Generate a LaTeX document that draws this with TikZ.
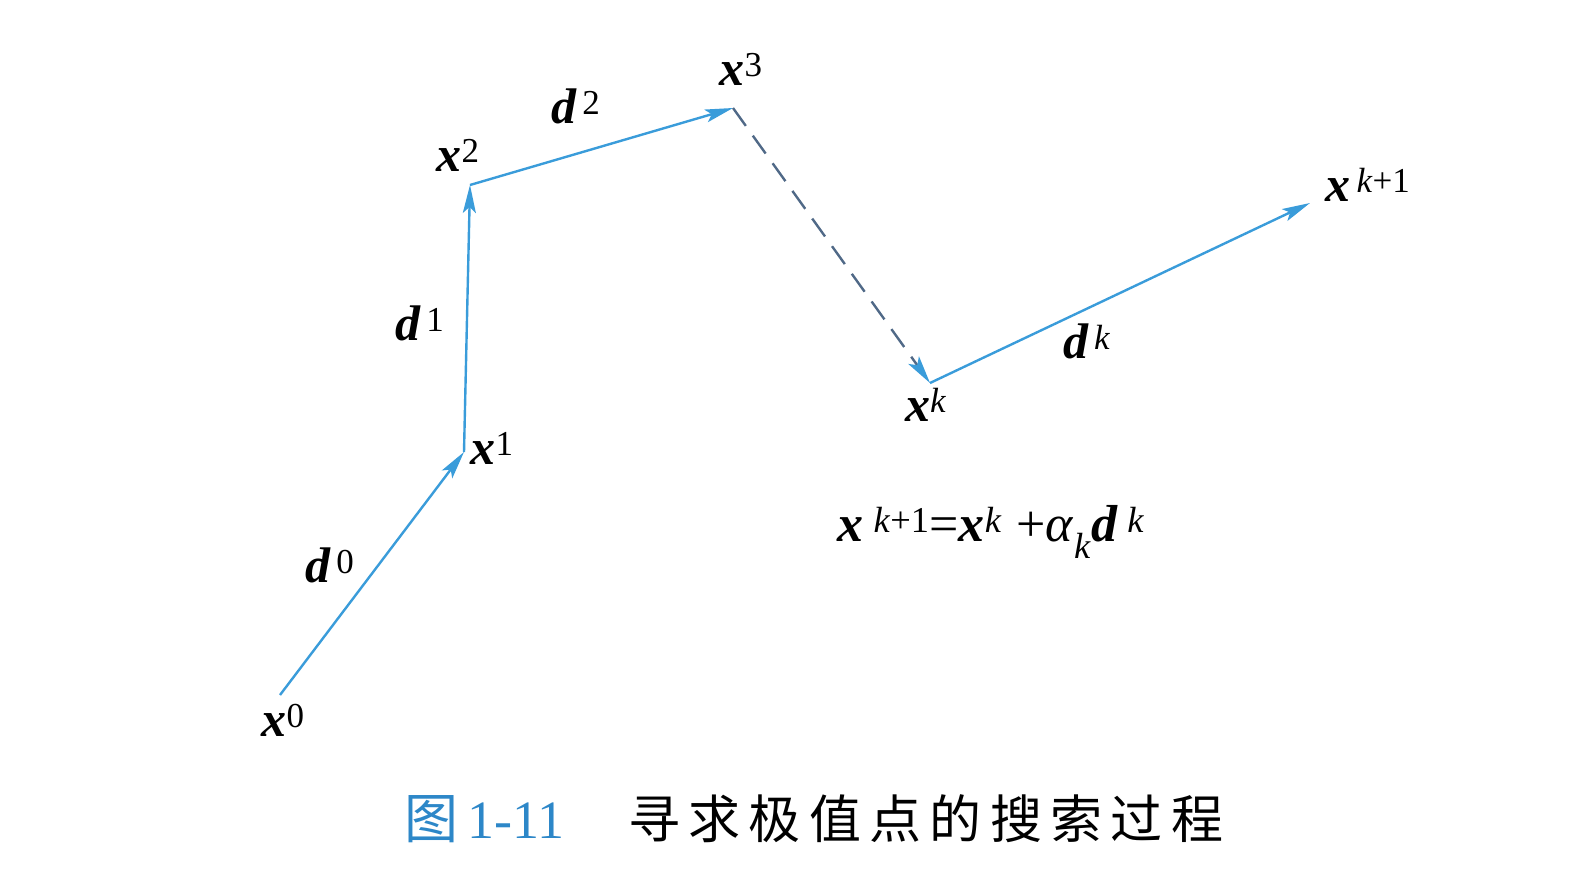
\documentclass[tikz,border=0pt]{standalone}
\usepackage{fontspec}
\setmainfont{Liberation Serif}
\newfontfamily\cjk[LetterSpace=16]{Noto Sans CJK SC}
\usetikzlibrary{arrows.meta}
\definecolor{lineblue}{RGB}{58,156,218}
\definecolor{capblue}{RGB}{45,135,200}
\definecolor{dashgray}{RGB}{80,105,135}
\newcommand\vsup[2]{{\bfseries\itshape #1}\textsuperscript{#2}}
\tikzset{
 searchline/.style={lineblue, line width=2.4pt, -{Stealth[length=28pt,width=13pt,inset=6pt]}},
 guessline/.style={dashgray, line width=2.4pt, dash pattern=on 22pt off 12pt, -{Stealth[length=28pt,width=13pt,inset=6pt,lineblue]}},
 ptlabel/.style={font=\fontsize{50}{54}\selectfont, inner sep=0pt}
}
\begin{document}
\begin{tikzpicture}[x=1pt,y=-1pt]
 \useasboundingbox (0,0) rectangle (1592,896);

 %points of the search path
 \coordinate (X0) at (280,695);
 \coordinate (X1) at (464,452);
 \coordinate (X2) at (470,185);
 \coordinate (X3) at (733,108);
 \coordinate (Xk) at (930,383);
 \coordinate (Xn) at (1310,203);

 %search directions
 \draw [searchline] (X0) -- (X1);
 \draw [searchline] (X1) -- (X2);
 \draw [searchline] (X2) -- (X3);
 \draw [guessline] (X3) -- (Xk);
 \draw [searchline] (Xk) -- (Xn);

 %labels of the points
 \node [ptlabel] (LX0) at (283,720) {\vsup{x}{0}};
 \node [ptlabel] (LX1) at (492,448) {\vsup{x}{1}};
 \node [ptlabel] (LX2) at (458,155) {\vsup{x}{2}};
 \node [ptlabel] (LX3) at (741,69) {\vsup{x}{3}};
 \node [ptlabel] (LXk) at (926,405) {\vsup{x}{\textit{k}}};
 \node [ptlabel] (LXn) at (1368,185) {\vsup{x}{\,\textit{k}+1}};

 %labels of the directions
 \node [ptlabel] (LD0) at (330,565) {\vsup{d}{\,0}};
 \node [ptlabel] (LD1) at (420,323) {\vsup{d}{\,1}};
 \node [ptlabel] (LD2) at (576,106) {\vsup{d}{\,2}};
 \node [ptlabel] (LDk) at (1087,341) {\vsup{d}{\,\textit{k}}};

 %iteration rule
 \node [ptlabel, font=\fontsize{52}{56}\selectfont] (rule) at (991,532)
  {\vsup{x}{\;\textit{k}+1}=\vsup{x}{\textit{k}}\;+\textit{α}\textsubscript{\textit{k}}\vsup{d}{\;\textit{k}}};

 %caption
 \node [inner sep=0pt, anchor=west, text=capblue, font=\fontsize{54}{60}\selectfont] (fignum) at (404,819)
  {{\cjk 图}\,1-11};
 \node [inner sep=0pt, anchor=west, font=\fontsize{52}{60}\selectfont\cjk] (caption) at (628,819)
  {寻求极值点的搜索过程};
\end{tikzpicture}
\end{document}
